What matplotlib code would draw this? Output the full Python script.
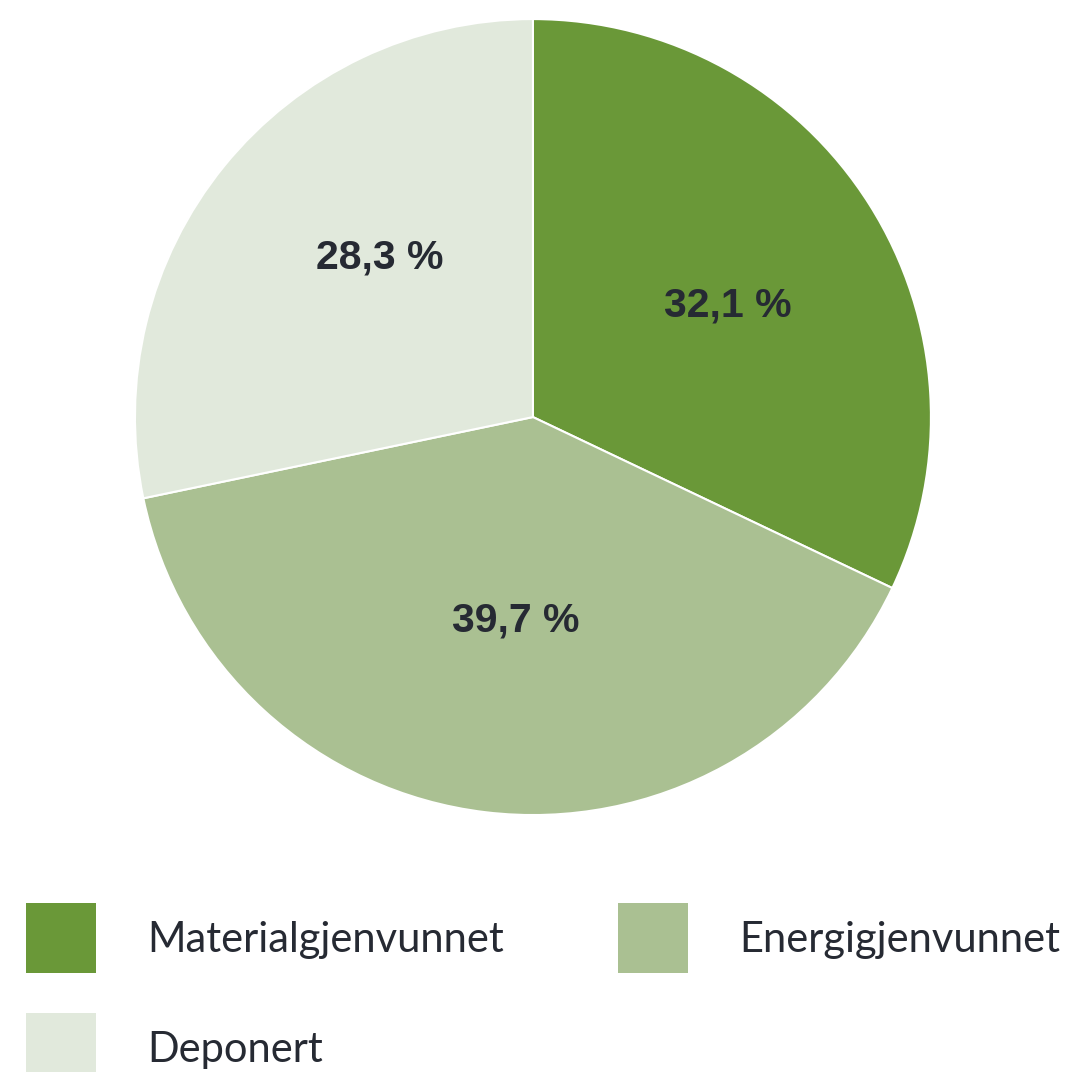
import matplotlib.pyplot as plt
from matplotlib.patches import Rectangle

categories = ["Materialgjenvunnet", "Energigjenvunnet", "Deponert"]
shares = [32.1, 39.7, 28.3]
colors = ["#6a9838", "#aac092", "#e1e9dc"]
text_color = "#262a33"

# where each percentage label sits, in pie (radius 1) units
label_pos = [(0.490, 0.281), (-0.043, -0.510), (-0.384, 0.402)]

fig = plt.figure(figsize=(10.66, 10.72), dpi=100)

# pie axes, placed so the circle sits in the upper part of the figure
ax = fig.add_axes([0.1266, 0.2397, 0.7467, 0.7425])
wedges, _, autotexts = ax.pie(
    shares, colors=colors, startangle=90, counterclock=False,
    autopct=lambda p: f"{p:.1f} %".replace(".", ","), pctdistance=0.55,
    wedgeprops=dict(edgecolor="white", linewidth=1.5),
    textprops=dict(color=text_color, fontsize=29.5, fontweight="bold",
                   family="Liberation Sans"))
for t, pos in zip(autotexts, label_pos):
    t.set_position(pos)
ax.set_xlim(-1, 1)
ax.set_ylim(-1, 1)
ax.set_aspect("equal")

# legend drawn by hand in pixel coordinates of the whole figure
lax = fig.add_axes([0, 0, 1, 1])
lax.set_xlim(0, 1066)
lax.set_ylim(1072, 0)
lax.axis("off")
lax.patch.set_alpha(0)
for i, (name, c) in enumerate(zip(categories, colors)):
    x0 = 26 + (i % 2) * 592
    y0 = 903 + (i // 2) * 110
    lax.add_patch(Rectangle((x0, y0), 70, 70, facecolor=c, edgecolor="none"))
    lax.text(x0 + 121, y0 + 37, name, fontsize=30, color=text_color,
             family="Lato", va="center", ha="left")

fig.savefig("out.png", dpi=100)
